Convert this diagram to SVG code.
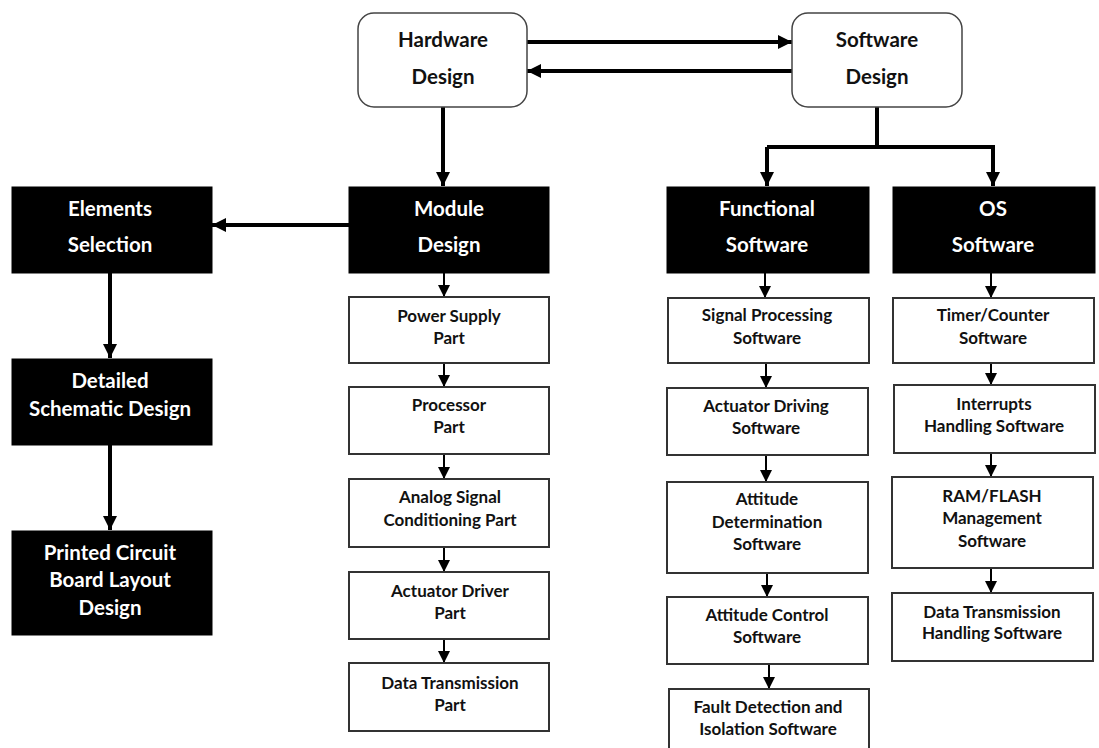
<svg xmlns="http://www.w3.org/2000/svg" width="1099" height="748" viewBox="0 0 1099 748">
<defs>
<style>
.t{font-family:Lato,"Open Sans","Liberation Sans",sans-serif;font-weight:700;text-anchor:middle}
.big{font-size:20.5px;fill:#111}
.bw{font-size:20.5px;fill:#fff}
.sm{font-size:17px;fill:#111}
.top{fill:#fff;stroke:#444;stroke-width:1.5}
.blk{fill:#000;stroke:#000}
.wb{fill:#fff;stroke:#333;stroke-width:2}
.thick{stroke:#000;stroke-width:4;fill:none}
.thin{stroke:#000;stroke-width:2;fill:none}
</style>
<marker id="ah" viewBox="0 0 10 10" refX="10" refY="5" markerWidth="3.5" markerHeight="3.5" markerUnits="strokeWidth" orient="auto"><path d="M0,0 L10,5 L0,10 z" fill="#000"/></marker>
<marker id="as" viewBox="0 0 10 10" refX="10" refY="5" markerWidth="6" markerHeight="6" markerUnits="strokeWidth" orient="auto"><path d="M0,0 L10,5 L0,10 z" fill="#000"/></marker>
</defs>
<rect width="1099" height="748" fill="#fff"/>

<g id="connectors">
<line class="thick" x1="527" y1="42" x2="792" y2="42" marker-end="url(#ah)"/>
<line class="thick" x1="792" y1="71" x2="527" y2="71" marker-end="url(#ah)"/>
<line class="thick" x1="443" y1="107" x2="443" y2="186" marker-end="url(#ah)"/>
<polyline class="thick" points="877,107 877,147"/>
<polyline class="thick" points="767,147 993,147 993,186" marker-end="url(#ah)"/>
<line class="thick" x1="767" y1="147" x2="767" y2="186" marker-end="url(#ah)"/>
<line class="thick" x1="349" y1="225" x2="212" y2="225" marker-end="url(#ah)"/>
<line class="thick" x1="110" y1="273" x2="110" y2="358" marker-end="url(#ah)"/>
<line class="thick" x1="110" y1="445" x2="110" y2="530" marker-end="url(#ah)"/>
<line class="thin" x1="444" y1="273" x2="444" y2="297" marker-end="url(#as)"/>
<line class="thin" x1="444" y1="363" x2="444" y2="387" marker-end="url(#as)"/>
<line class="thin" x1="444" y1="454" x2="444" y2="479" marker-end="url(#as)"/>
<line class="thin" x1="444" y1="547" x2="444" y2="572" marker-end="url(#as)"/>
<line class="thin" x1="444" y1="639" x2="444" y2="663" marker-end="url(#as)"/>
<line class="thin" x1="765" y1="273" x2="765" y2="298" marker-end="url(#as)"/>
<line class="thin" x1="766" y1="363" x2="766" y2="388" marker-end="url(#as)"/>
<line class="thin" x1="766" y1="455" x2="766" y2="482" marker-end="url(#as)"/>
<line class="thin" x1="767" y1="573" x2="767" y2="597" marker-end="url(#as)"/>
<line class="thin" x1="769" y1="664" x2="769" y2="689" marker-end="url(#as)"/>
<line class="thin" x1="991" y1="273" x2="991" y2="298" marker-end="url(#as)"/>
<line class="thin" x1="991" y1="363" x2="991" y2="385" marker-end="url(#as)"/>
<line class="thin" x1="991" y1="453" x2="991" y2="477" marker-end="url(#as)"/>
<line class="thin" x1="991" y1="568" x2="991" y2="593" marker-end="url(#as)"/>
</g>

<g id="hardware"><rect class="top" x="358" y="13" width="169" height="94" rx="16"/>
<text class="t big" x="443" y="47">Hardware</text><text class="t big" x="443" y="84">Design</text></g>
<g id="software"><rect class="top" x="792" y="13" width="170" height="94" rx="16"/>
<text class="t big" x="877" y="47">Software</text><text class="t big" x="877" y="84">Design</text></g>

<g id="elements"><rect class="blk" x="12" y="187" width="200" height="86"/>
<text class="t bw" x="110" y="216">Elements</text><text class="t bw" x="110" y="252">Selection</text></g>
<g id="detailed"><rect class="blk" x="12" y="359" width="200" height="86"/>
<text class="t bw" x="110" y="388">Detailed</text><text class="t bw" x="110" y="416">Schematic Design</text></g>
<g id="pcb"><rect class="blk" x="12" y="531" width="200" height="104"/>
<text class="t bw" x="110" y="560">Printed Circuit</text><text class="t bw" x="110" y="587">Board Layout</text><text class="t bw" x="110" y="615">Design</text></g>

<g id="module"><rect class="blk" x="349" y="187" width="200" height="86"/>
<text class="t bw" x="449" y="216">Module</text><text class="t bw" x="449" y="252">Design</text></g>
<g id="functional"><rect class="blk" x="667" y="187" width="202" height="86"/>
<text class="t bw" x="767" y="216">Functional</text><text class="t bw" x="767" y="252">Software</text></g>
<g id="os"><rect class="blk" x="893" y="187" width="202" height="86"/>
<text class="t bw" x="993" y="216">OS</text><text class="t bw" x="993" y="252">Software</text></g>

<g id="power"><rect class="wb" x="349" y="297" width="200" height="66"/>
<text class="t sm" x="449" y="322">Power Supply</text><text class="t sm" x="449" y="344">Part</text></g>
<g id="processor"><rect class="wb" x="349" y="387" width="200" height="67"/>
<text class="t sm" x="449" y="411">Processor</text><text class="t sm" x="449" y="433">Part</text></g>
<g id="analog"><rect class="wb" x="349" y="479" width="200" height="68"/>
<text class="t sm" x="450" y="503">Analog Signal</text><text class="t sm" x="450" y="526">Conditioning Part</text></g>
<g id="actuator"><rect class="wb" x="349" y="572" width="200" height="67"/>
<text class="t sm" x="450" y="597">Actuator Driver</text><text class="t sm" x="450" y="619">Part</text></g>
<g id="datapart"><rect class="wb" x="349" y="663" width="200" height="68"/>
<text class="t sm" x="450" y="689">Data Transmission</text><text class="t sm" x="450" y="711">Part</text></g>

<g id="signal"><rect class="wb" x="668" y="298" width="201" height="65"/>
<text class="t sm" x="767" y="321">Signal Processing</text><text class="t sm" x="767" y="344">Software</text></g>
<g id="actdrv"><rect class="wb" x="667" y="388" width="201" height="67"/>
<text class="t sm" x="766" y="412">Actuator Driving</text><text class="t sm" x="766" y="434">Software</text></g>
<g id="attdet"><rect class="wb" x="667" y="482" width="201" height="91"/>
<text class="t sm" x="767" y="505">Attitude</text><text class="t sm" x="767" y="528">Determination</text><text class="t sm" x="767" y="550">Software</text></g>
<g id="attctl"><rect class="wb" x="667" y="597" width="201" height="67"/>
<text class="t sm" x="767" y="621">Attitude Control</text><text class="t sm" x="767" y="643">Software</text></g>
<g id="fault"><rect class="wb" x="669" y="689" width="200" height="75"/>
<text class="t sm" x="768" y="713">Fault Detection and</text><text class="t sm" x="768" y="735">Isolation Software</text></g>

<g id="timer"><rect class="wb" x="893" y="298" width="201" height="65"/>
<text class="t sm" x="993" y="321">Timer/Counter</text><text class="t sm" x="993" y="344">Software</text></g>
<g id="interrupts"><rect class="wb" x="894" y="385" width="201" height="68"/>
<text class="t sm" x="994" y="410">Interrupts</text><text class="t sm" x="994" y="432">Handling Software</text></g>
<g id="ram"><rect class="wb" x="892" y="477" width="201" height="91"/>
<text class="t sm" x="992" y="502">RAM/FLASH</text><text class="t sm" x="992" y="524">Management</text><text class="t sm" x="992" y="547">Software</text></g>
<g id="dth"><rect class="wb" x="892" y="593" width="201" height="68"/>
<text class="t sm" x="992" y="618">Data Transmission</text><text class="t sm" x="992" y="639">Handling Software</text></g>
</svg>
